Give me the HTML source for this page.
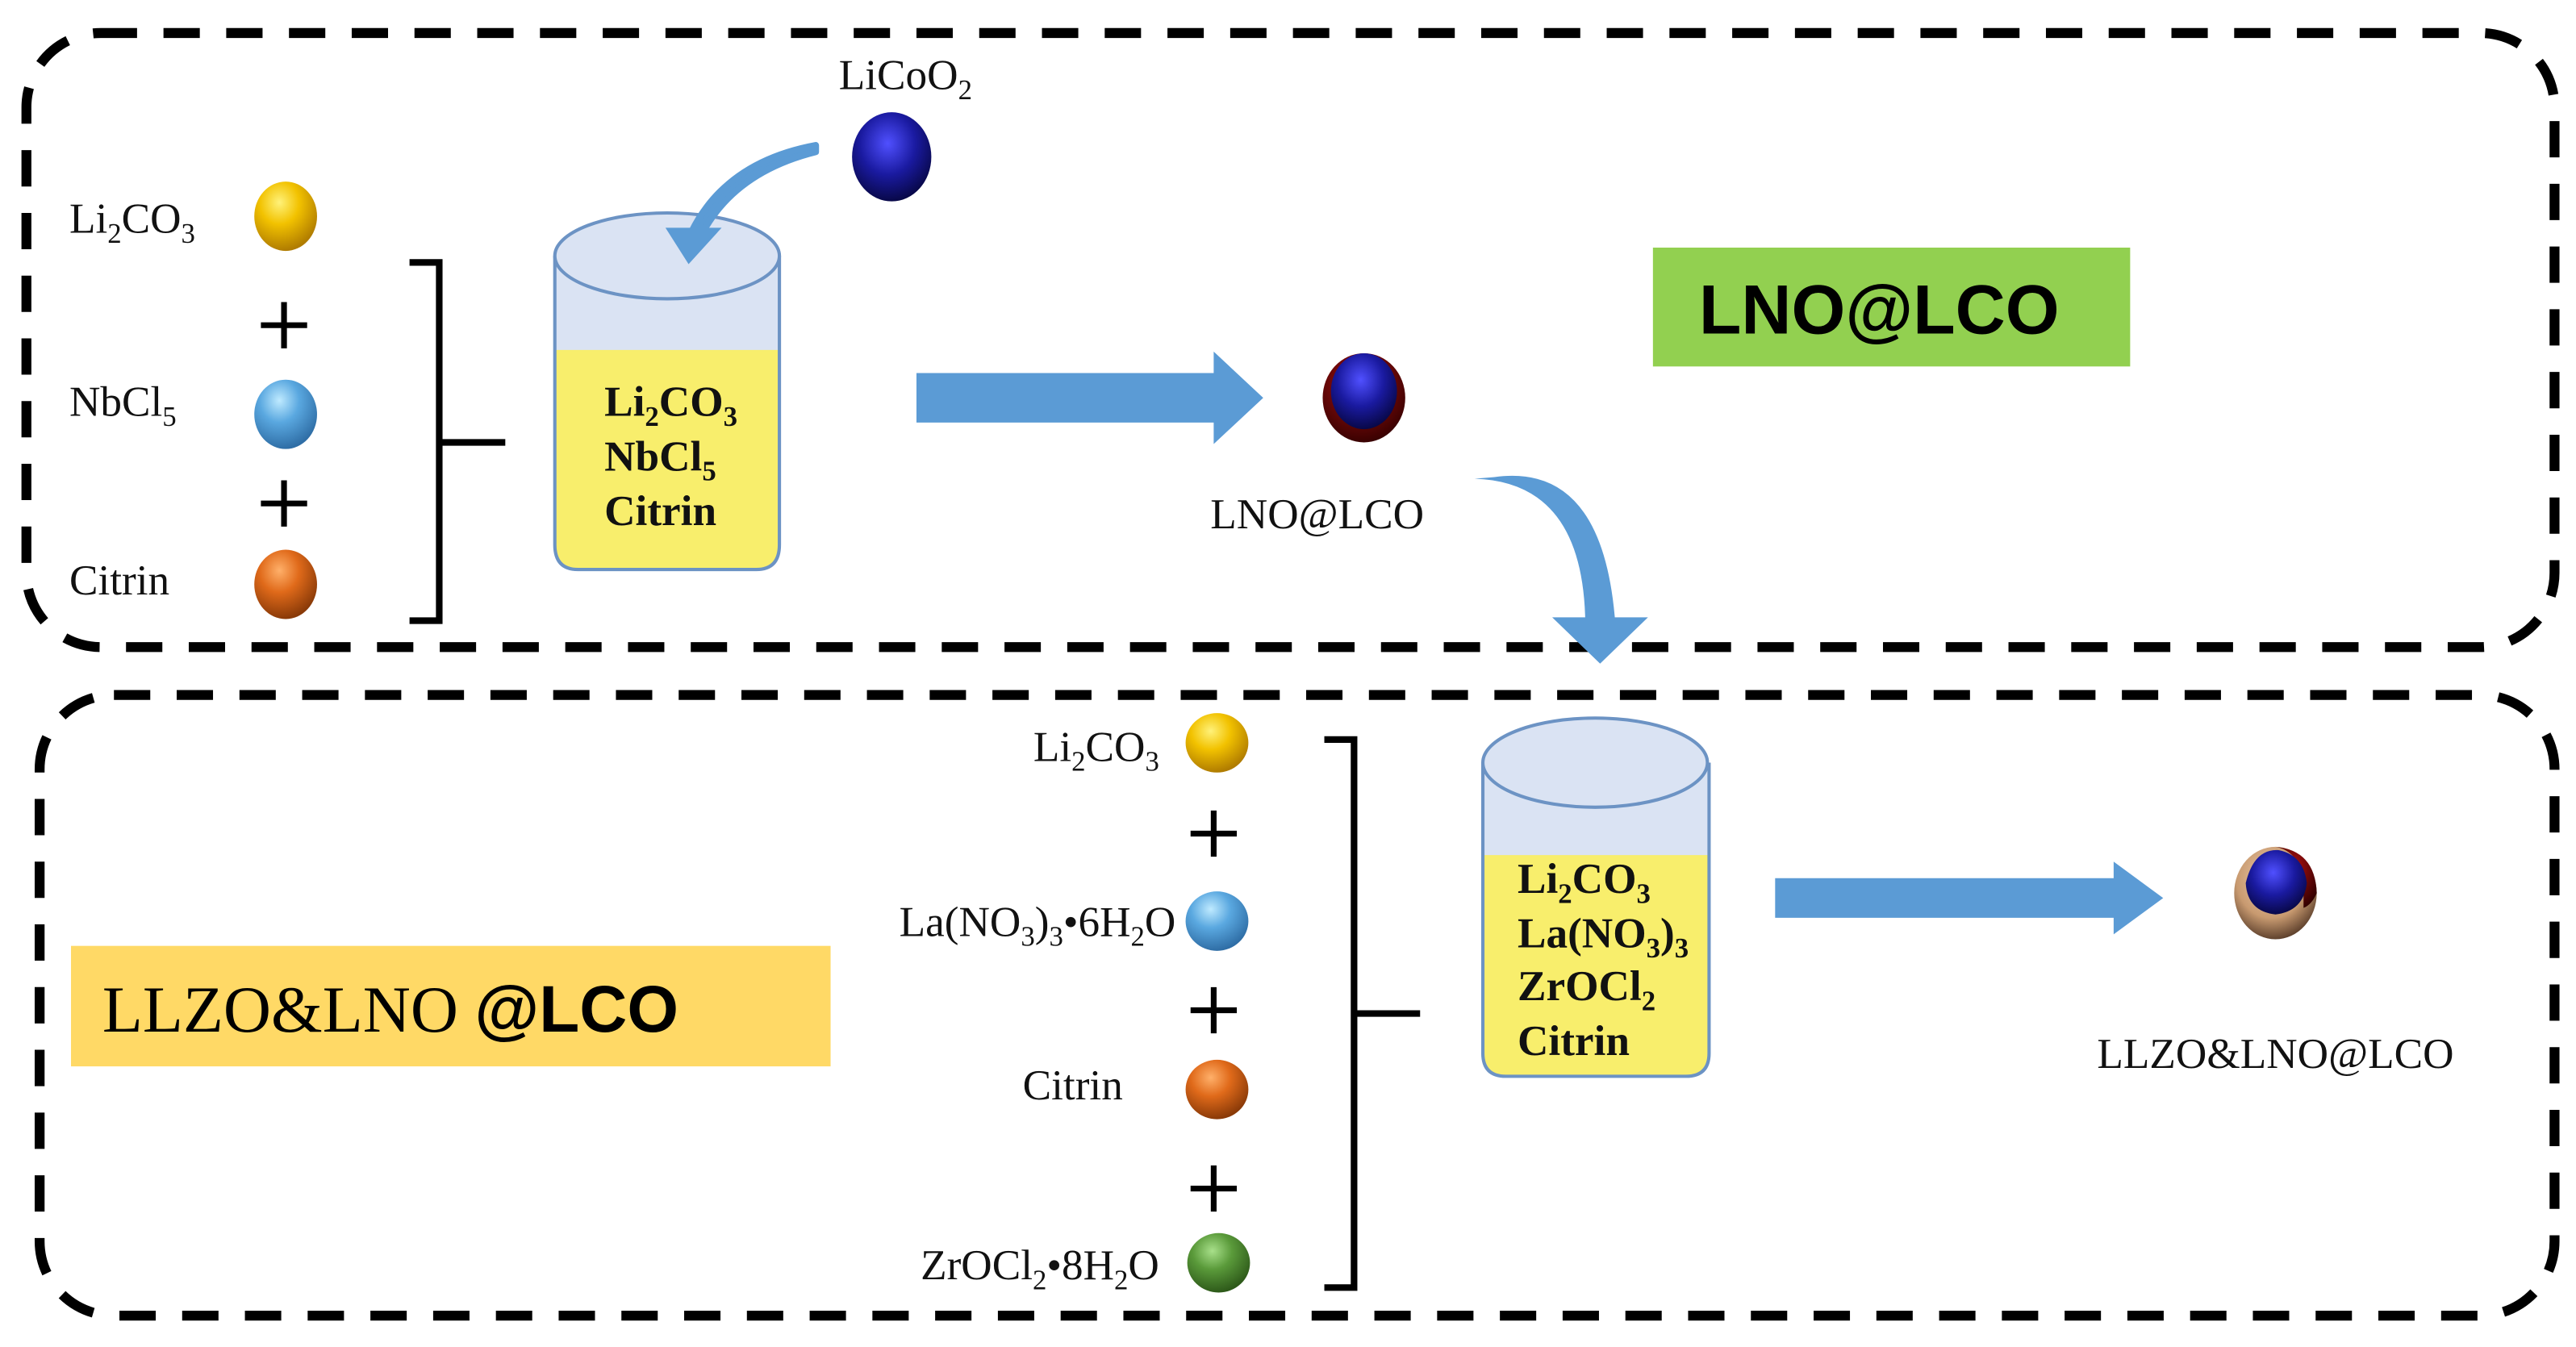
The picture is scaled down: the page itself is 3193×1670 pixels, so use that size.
<!DOCTYPE html>
<html><head><meta charset="utf-8"><style>
html,body{margin:0;padding:0;background:#fff;}
svg{display:block;}
.s{font-family:"Liberation Serif",serif;font-size:26px;fill:#111;}
.b{font-family:"Liberation Serif",serif;font-size:26px;font-weight:bold;fill:#111;}
.sub{font-size:17px;}
</style></head><body>
<svg width="3193" height="1670" viewBox="0 0 1560 816" preserveAspectRatio="none" xmlns="http://www.w3.org/2000/svg">
<defs>
<radialGradient id="gy" cx="0.4" cy="0.3" r="0.7"><stop offset="0" stop-color="#fff27a"/><stop offset="0.45" stop-color="#f2c200"/><stop offset="1" stop-color="#b07c00"/></radialGradient>
<radialGradient id="gb" cx="0.4" cy="0.3" r="0.7"><stop offset="0" stop-color="#bfeaff"/><stop offset="0.45" stop-color="#5aa8e0"/><stop offset="1" stop-color="#2f6ea6"/></radialGradient>
<radialGradient id="go" cx="0.4" cy="0.3" r="0.7"><stop offset="0" stop-color="#ffb06a"/><stop offset="0.45" stop-color="#e06a1a"/><stop offset="1" stop-color="#8a3a08"/></radialGradient>
<radialGradient id="gg" cx="0.4" cy="0.3" r="0.7"><stop offset="0" stop-color="#a8e08a"/><stop offset="0.45" stop-color="#5a9a3a"/><stop offset="1" stop-color="#2e5a1a"/></radialGradient>
<radialGradient id="gd" cx="0.45" cy="0.35" r="0.7"><stop offset="0" stop-color="#5050ff"/><stop offset="0.5" stop-color="#1a1aa0"/><stop offset="1" stop-color="#05053a"/></radialGradient>
<radialGradient id="gr" cx="0.45" cy="0.35" r="0.7"><stop offset="0" stop-color="#b01010"/><stop offset="1" stop-color="#300000"/></radialGradient>
<radialGradient id="gt" cx="0.45" cy="0.35" r="0.7"><stop offset="0" stop-color="#f0d0b0"/><stop offset="0.6" stop-color="#c89a70"/><stop offset="1" stop-color="#4a3020"/></radialGradient>
</defs>

<rect x="16" y="20" width="1531" height="372" rx="45" fill="none" stroke="#000" stroke-width="6" stroke-dasharray="22,16"/>
<rect x="24" y="421" width="1523" height="376" rx="45" fill="none" stroke="#000" stroke-width="6" stroke-dasharray="22,16"/>

<g stroke="#000" stroke-width="3.5">
<path d="M158 197 H186 M172 183 V211"/>
<path d="M158 305 H186 M172 291 V319"/>
<path d="M721 505 H749 M735 491 V519"/>
<path d="M721 612 H749 M735 598 V626"/>
<path d="M721 720 H749 M735 706 V734"/>
</g>

<text class="s" x="42" y="141">Li<tspan class="sub" dy="6">2</tspan><tspan dy="-6">CO</tspan><tspan class="sub" dy="6">3</tspan></text>
<ellipse cx="173" cy="131" rx="19" ry="21" fill="url(#gy)"/>
<text class="s" x="42" y="252">NbCl<tspan class="sub" dy="6">5</tspan></text>
<ellipse cx="173" cy="251" rx="19" ry="21" fill="url(#gb)"/>
<text class="s" x="42" y="360">Citrin</text>
<ellipse cx="173" cy="354" rx="19" ry="21" fill="url(#go)"/>
<path d="M248 159 H266 V376 H248 M266 268 H306" fill="none" stroke="#000" stroke-width="4"/>

<path d="M336 155 V330 Q336 345 350 345 H458 Q472 345 472 330 V155" fill="#dae3f3"/>
<path d="M336 212 H472 V330 Q472 345 458 345 H350 Q336 345 336 330 Z" fill="#f8ee6c"/>
<path d="M336 155 V330 Q336 345 350 345 H458 Q472 345 472 330 V155" fill="none" stroke="#6c93c4" stroke-width="2"/>
<ellipse cx="404" cy="155" rx="68" ry="26" fill="#dae3f3" stroke="#6c93c4" stroke-width="2"/>
<text class="b" x="366" y="252">Li<tspan class="sub" dy="6">2</tspan><tspan dy="-6">CO</tspan><tspan class="sub" dy="6">3</tspan></text>
<text class="b" x="366" y="285">NbCl<tspan class="sub" dy="6">5</tspan></text>
<text class="b" x="366" y="318">Citrin</text>

<text class="s" x="508" y="54">LiCoO<tspan class="sub" dy="6">2</tspan></text>
<ellipse cx="540" cy="95" rx="24" ry="27" fill="url(#gd)"/>
<path d="M494 88 Q440 98 419 140 L426 140 Q446 104 494 92 Z" fill="#5b9bd5" stroke="#5b9bd5" stroke-width="4" stroke-linejoin="round"/>
<polygon points="403,138 437,138 417,160" fill="#5b9bd5"/>

<polygon points="555,226 735,226 735,213 765,241 735,269 735,256 555,256" fill="#5b9bd5"/>
<ellipse cx="826" cy="241" rx="25" ry="27" fill="url(#gr)"/>
<ellipse cx="826" cy="237" rx="20" ry="23" fill="url(#gd)"/>
<text class="s" x="733" y="320">LNO@LCO</text>

<rect x="1001" y="150" width="289" height="72" fill="#92d050"/>
<text x="1138" y="202" text-anchor="middle" style="font-family:'Liberation Sans',sans-serif;font-weight:bold;font-size:42px;fill:#000">LNO@LCO</text>

<path d="M893 290 Q958 292 960 375 L978 375 Q970 280 905 289 Z" fill="#5b9bd5"/>
<polygon points="940,374 998,374 969,402" fill="#5b9bd5"/>

<text class="s" x="702" y="461" text-anchor="end">Li<tspan class="sub" dy="6">2</tspan><tspan dy="-6">CO</tspan><tspan class="sub" dy="6">3</tspan></text>
<ellipse cx="737" cy="450" rx="19" ry="18" fill="url(#gy)"/>
<text class="s" x="712" y="567" text-anchor="end">La(NO<tspan class="sub" dy="6">3</tspan><tspan dy="-6">)</tspan><tspan class="sub" dy="6">3</tspan><tspan dy="-6">•6H</tspan><tspan class="sub" dy="6">2</tspan><tspan dy="-6">O</tspan></text>
<ellipse cx="737" cy="558" rx="19" ry="18" fill="url(#gb)"/>
<text class="s" x="680" y="666" text-anchor="end">Citrin</text>
<ellipse cx="737" cy="660" rx="19" ry="18" fill="url(#go)"/>
<text class="s" x="702" y="775" text-anchor="end">ZrOCl<tspan class="sub" dy="6">2</tspan><tspan dy="-6">•8H</tspan><tspan class="sub" dy="6">2</tspan><tspan dy="-6">O</tspan></text>
<ellipse cx="738" cy="765" rx="19" ry="18" fill="url(#gg)"/>
<path d="M802 448 H820 V780 H802 M820 614 H860" fill="none" stroke="#000" stroke-width="4"/>

<rect x="43" y="573" width="460" height="73" fill="#ffd966"/>
<text x="62" y="625" style="font-family:'Liberation Serif',serif;font-size:40px;fill:#000">LLZO&amp;LNO <tspan style="font-family:'Liberation Sans',sans-serif;font-weight:bold">@LCO</tspan></text>

<path d="M898 462 V638 Q898 652 912 652 H1021 Q1035 652 1035 638 V462" fill="#dae3f3"/>
<path d="M898 518 H1035 V638 Q1035 652 1021 652 H912 Q898 652 898 638 Z" fill="#f8ee6c"/>
<path d="M898 462 V638 Q898 652 912 652 H1021 Q1035 652 1035 638 V462" fill="none" stroke="#6c93c4" stroke-width="2"/>
<ellipse cx="966" cy="462" rx="68" ry="27" fill="#dae3f3" stroke="#6c93c4" stroke-width="2"/>
<text class="b" x="919" y="541">Li<tspan class="sub" dy="6">2</tspan><tspan dy="-6">CO</tspan><tspan class="sub" dy="6">3</tspan></text>
<text class="b" x="919" y="574">La(NO<tspan class="sub" dy="6">3</tspan><tspan dy="-6">)</tspan><tspan class="sub" dy="6">3</tspan></text>
<text class="b" x="919" y="606">ZrOCl<tspan class="sub" dy="6">2</tspan></text>
<text class="b" x="919" y="639">Citrin</text>

<polygon points="1075,532 1280,532 1280,522 1310,544 1280,566 1280,556 1075,556" fill="#5b9bd5"/>
<ellipse cx="1378" cy="541" rx="25" ry="28" fill="url(#gt)"/>
<path d="M1378 513 Q1402 515 1403 541 Q1400 548 1395 550 L1395 530 Q1390 515 1378 513 Z" fill="url(#gr)"/>
<path d="M1360 535 Q1365 514 1380 515 Q1395 518 1397 535 Q1395 552 1378 554 Q1361 552 1360 535 Z" fill="url(#gd)"/>
<text class="s" x="1270" y="647">LLZO&amp;LNO@LCO</text>
</svg>
</body></html>
